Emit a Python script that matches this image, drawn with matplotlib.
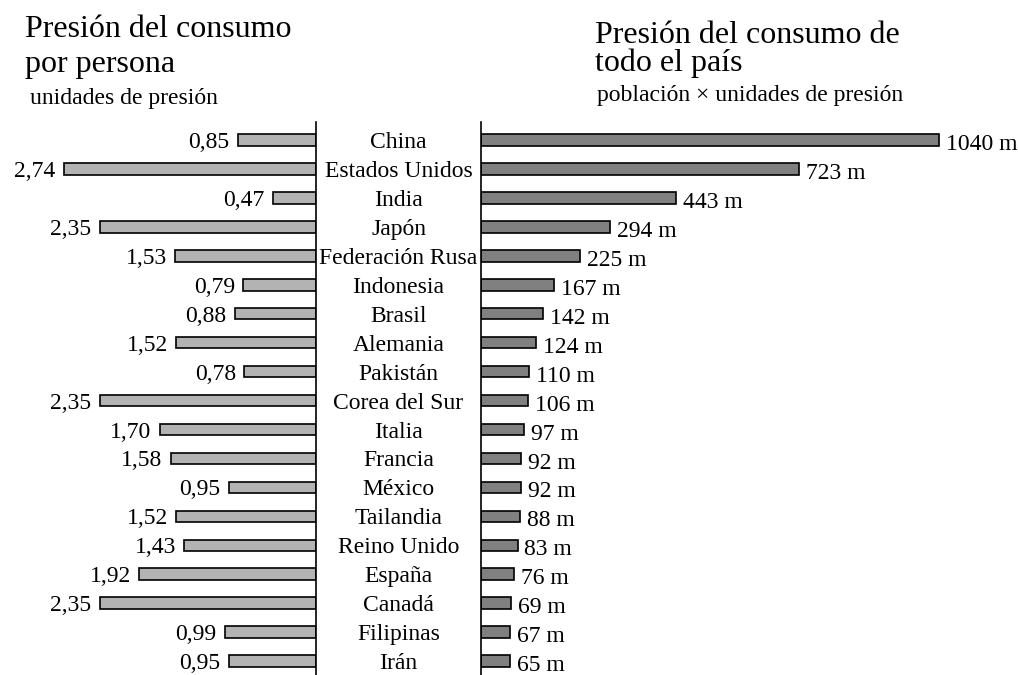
import matplotlib
matplotlib.use("Agg")
import matplotlib.pyplot as plt
import matplotlib.transforms as mtransforms

plt.rcParams['font.family'] = ['Liberation Serif', 'DejaVu Serif']

countries = ['China', 'Estados Unidos', 'India', 'Japón', 'Federación Rusa',
             'Indonesia', 'Brasil', 'Alemania', 'Pakistán', 'Corea del Sur',
             'Italia', 'Francia', 'México', 'Tailandia', 'Reino Unido',
             'España', 'Canadá', 'Filipinas', 'Irán']
per_person = [0.85, 2.74, 0.47, 2.35, 1.53, 0.79, 0.88, 1.52, 0.78, 2.35,
              1.70, 1.58, 0.95, 1.52, 1.43, 1.92, 2.35, 0.99, 0.95]
whole_country = [1040, 723, 443, 294, 225, 167, 142, 124, 110, 106,
                 97, 92, 92, 88, 83, 76, 69, 67, 65]

W, H = 1018, 675
fig = plt.figure(figsize=(W / 100, H / 100), dpi=100)

# axes geometry in pixels
top_px, bot_px = 122, 675
left_axis_x, right_axis_x = 316, 481
row0_px, row_step = 140, 28.95

def fy(px):
    return 1 - px / H

ax_h = (bot_px - top_px) / H
axL = fig.add_axes([0, fy(bot_px), left_axis_x / W, ax_h])
axR = fig.add_axes([right_axis_x / W, fy(bot_px), (W - right_axis_x) / W, ax_h])

ylo = -(row0_px - top_px) / row_step
yhi = (bot_px - row0_px) / row_step
ypos = list(range(len(countries)))

bar_h = 0.4
axL.barh(ypos, per_person, height=bar_h, color='#b3b3b3', edgecolor='black', linewidth=1.2)
axR.barh(ypos, whole_country, height=bar_h, color='#808080', edgecolor='black', linewidth=1.2)

axL.set_xlim(left_axis_x / 92.0, 0)
axR.set_xlim(0, (W - right_axis_x) / 0.44)
for ax in (axL, axR):
    ax.set_ylim(yhi, ylo)
    ax.set_xticks([])
    ax.set_yticks([])
    for s in ax.spines.values():
        s.set_visible(False)
    ax.patch.set_alpha(0)
axL.spines['right'].set_visible(True)
axL.spines['right'].set_linewidth(1.2)
axR.spines['left'].set_visible(True)
axR.spines['left'].set_linewidth(1.2)

fs = 17
for y, v in zip(ypos, per_person):
    axL.annotate(f'{v:.2f}'.replace('.', ','), (v, y), xytext=(-6, 0),
                 textcoords='offset points', ha='right', va='center_baseline',
                 fontsize=fs)
for y, v in zip(ypos, whole_country):
    axR.annotate(f'{v} m', (v, y), xytext=(5, -1.5),
                 textcoords='offset points', ha='left', va='center_baseline',
                 fontsize=fs)

trans = mtransforms.blended_transform_factory(fig.transFigure, axL.transData)
for y, name in zip(ypos, countries):
    fig.text(398.5 / W, y, name, transform=trans, ha='center',
             va='center_baseline', fontsize=fs)

# titles
fig.text(25 / W, fy(37), 'Presión del consumo', fontsize=23, va='baseline')
fig.text(25 / W, fy(72), 'por persona', fontsize=23, va='baseline')
fig.text(30 / W, fy(104), 'unidades de presión', fontsize=17, va='baseline')
fig.text(595 / W, fy(43), 'Presión del consumo de', fontsize=23, va='baseline')
fig.text(595 / W, fy(71), 'todo el país', fontsize=23, va='baseline')
fig.text(597 / W, fy(101), 'población × unidades de presión', fontsize=17, va='baseline')

fig.savefig('out.png', dpi=100)
